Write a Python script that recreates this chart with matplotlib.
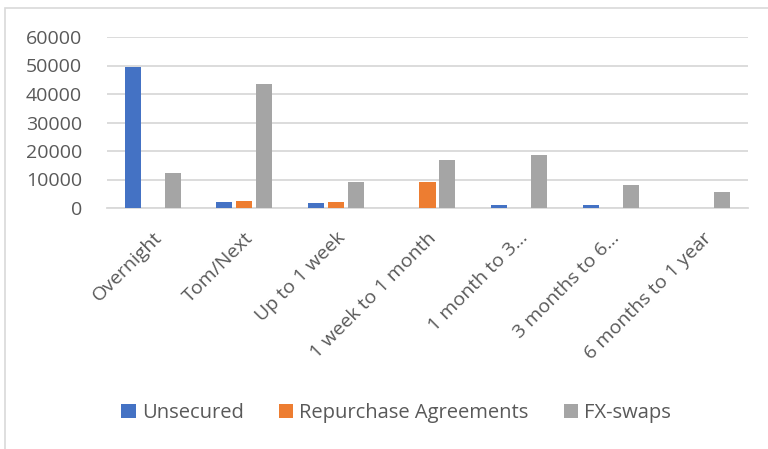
import matplotlib
matplotlib.use('Agg')
import matplotlib.pyplot as plt
from matplotlib.patches import Rectangle
import numpy as np

# Maturity buckets and volumes per segment.
categories = ['Overnight', 'Tom/Next', 'Up to 1 week', '1 week to 1 month',
              '1 month to 3…', '3 months to 6…', '6 months to 1 year']
unsecured = [49500, 2100, 1700, 0, 1200, 1000, 0]
repo = [0, 2300, 2100, 9200, 0, 0, 0]
fx_swaps = [12300, 43600, 9100, 16700, 18500, 8200, 5500]
series_names = ['Unsecured', 'Repurchase Agreements', 'FX-swaps']
y_ticks = [0, 10000, 20000, 30000, 40000, 50000, 60000]

COLORS = ['#4472C4', '#ED7D31', '#A5A5A5']
TEXT = '#595959'
GRID = '#D9D9D9'

plt.rcParams['font.family'] = ['Open Sans', 'DejaVu Sans']

fig = plt.figure(figsize=(7.68, 4.49), dpi=100)
fig.patch.set_facecolor('white')
# Chart-area border (only left and top edges visible in the crop).
fig.patches.append(Rectangle((5 / 768, -0.1), 2.0, 1 - 8 / 449 + 0.1,
                             transform=fig.transFigure, fill=False,
                             edgecolor=GRID, linewidth=1.2))

ax = fig.add_axes([107 / 768, 1 - 208 / 449, 641 / 768, 171 / 449])
x = np.arange(len(categories))
width = 0.175
step = 0.218
for i, (vals, name) in enumerate(zip([unsecured, repo, fx_swaps], series_names)):
    ax.bar(x + (i - 1) * step, vals, width, color=COLORS[i], label=name,
           zorder=3)

ax.set_xlim(-0.5, len(categories) - 0.5)
ax.set_ylim(0, 60000)
ax.set_yticks(y_ticks)
ax.set_yticklabels([str(v) for v in y_ticks])
ax.yaxis.grid(True, color=GRID, linewidth=1.3)
ax.set_axisbelow(True)
for s in ['top', 'right', 'left']:
    ax.spines[s].set_visible(False)
ax.spines['bottom'].set_color(GRID)
ax.spines['bottom'].set_linewidth(1.3)
ax.tick_params(axis='both', length=0, labelsize=14, labelcolor=TEXT)
ax.tick_params(axis='y', pad=18)
ax.set_xticks(x)
ax.set_xticklabels(categories, rotation=45, ha='right',
                   rotation_mode='anchor')
ax.tick_params(axis='x', pad=15)

fig.legend(loc='center', bbox_to_anchor=(396 / 768, 1 - 413 / 449), ncol=3,
           frameon=False, fontsize=14.5, labelcolor=TEXT,
           handlelength=0.7, handleheight=0.7, handletextpad=0.3,
           columnspacing=1.75)

plt.savefig('out.png', dpi=100, facecolor='white')
plt.close(fig)
